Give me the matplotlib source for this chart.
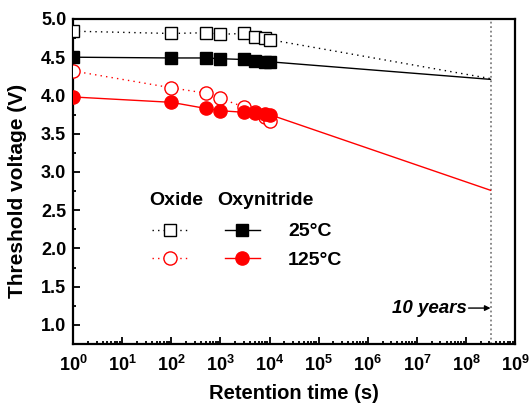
import numpy as np
import matplotlib
matplotlib.use("Agg")
import matplotlib.pyplot as plt
from matplotlib.ticker import LogLocator, FuncFormatter, NullFormatter, MultipleLocator

plt.rcParams['font.family'] = ['Liberation Sans', 'DejaVu Sans']
plt.rcParams['font.weight'] = 'bold'
plt.rcParams['mathtext.fontset'] = 'custom'
plt.rcParams['mathtext.rm'] = 'Liberation Sans:bold'
plt.rcParams['mathtext.bf'] = 'Liberation Sans:bold'

# data
time_s = [1, 100, 500, 1000, 3000, 5000, 8000, 10000]
oxide_25 = [4.84, 4.81, 4.82, 4.80, 4.81, 4.77, 4.75, 4.73]
oxynitride_25 = [4.50, 4.49, 4.49, 4.48, 4.47, 4.45, 4.44, 4.44]
oxide_125 = [4.32, 4.10, 4.03, 3.96, 3.85, 3.78, 3.72, 3.67]
oxynitride_125 = [3.98, 3.91, 3.83, 3.80, 3.78, 3.77, 3.76, 3.75]
ten_years_s = 3.15e8
extrap_oxide_25 = 4.22
extrap_oxynitride_25 = 4.21
extrap_oxynitride_125 = 2.76
legend_labels = ['', '', '25\u00b0C', '125\u00b0C']
headers = ['Oxide', 'Oxynitride']

fig = plt.figure(figsize=(5.3, 4.12), dpi=100)
ax = fig.add_axes([0.138, 0.165, 0.834, 0.789])

# extrapolation lines
ax.plot([time_s[-1], ten_years_s], [oxide_25[-1], extrap_oxide_25], color='black',
        lw=1.0, ls=(0, (1, 3)), zorder=2)
ax.plot([time_s[-1], ten_years_s], [oxynitride_25[-1], extrap_oxynitride_25], color='black',
        lw=1.0, ls='-', zorder=2)
ax.plot([time_s[-1], ten_years_s], [oxynitride_125[-1], extrap_oxynitride_125], color='red',
        lw=1.0, ls='-', zorder=2)

ms_sq = 8
ms_ci = 9.5
h1, = ax.plot(time_s, oxide_25, color='black', lw=1.0, ls=(0, (1, 3)), marker='s',
              ms=ms_sq, mfc='white', mec='black', mew=1.0, zorder=3)
h2, = ax.plot(time_s, oxide_125, color='red', lw=1.0, ls=(0, (1, 3)), marker='o',
              ms=ms_ci, mfc='white', mec='red', mew=1.0, zorder=3)
h3, = ax.plot(time_s, oxynitride_25, color='black', lw=1.0, ls='-', marker='s',
              ms=ms_sq, mfc='black', mec='black', zorder=4)
h4, = ax.plot(time_s, oxynitride_125, color='red', lw=1.0, ls='-', marker='o',
              ms=ms_ci, mfc='red', mec='red', zorder=4)

# 10 years line
ax.axvline(ten_years_s, color='gray', lw=1.3, ls=(0, (1, 1.5)), zorder=1)
ax.annotate('', xy=(ten_years_s, 1.22), xytext=(ten_years_s / 2.8, 1.22),
            arrowprops=dict(arrowstyle='-|>', color='black', lw=1.0,
                            mutation_scale=8, shrinkA=0, shrinkB=0))
ax.text(ten_years_s / 3.1, 1.22, '10 years', ha='right', va='center',
        fontsize=13.5, fontweight='bold', style='italic')

ax.set_xscale('log')
ax.set_xlim(1, 1e9)
ax.set_ylim(0.75, 5.0)

ax.xaxis.set_major_locator(LogLocator(base=10, numticks=20))
ax.xaxis.set_minor_locator(LogLocator(base=10, subs=np.arange(2, 10), numticks=20))
ax.xaxis.set_major_formatter(FuncFormatter(lambda v, p: r'$\mathbf{10^{%d}}$' % round(np.log10(v))))
ax.xaxis.set_minor_formatter(NullFormatter())
ax.yaxis.set_major_locator(MultipleLocator(0.5))
ax.yaxis.set_minor_locator(MultipleLocator(0.25))
ax.yaxis.set_major_formatter(FuncFormatter(lambda v, p: '%.1f' % v))

ax.tick_params(which='both', direction='in', top=False, right=False, width=1.3)
ax.tick_params(which='major', length=5, labelsize=13)
ax.tick_params(axis='x', which='major', pad=8)
ax.tick_params(axis='y', which='major', pad=5)
ax.tick_params(which='minor', length=2.5)
for lab in ax.get_yticklabels():
    lab.set_fontweight('bold')
for s in ax.spines.values():
    s.set_linewidth(1.6)

ax.set_xlabel('Retention time (s)', fontsize=14.5, fontweight='bold', labelpad=6.5)
ax.set_ylabel('Threshold voltage (V)', fontsize=15, fontweight='bold')
ax.yaxis.set_label_coords(-0.105, 0.47)

# legend
leg = ax.legend([h1, h2, h3, h4], legend_labels, ncol=2,
                loc='upper left', bbox_to_anchor=(0.179, 0.373), frameon=False,
                borderaxespad=0, borderpad=0,
                prop={'size': 14, 'weight': 'bold'}, handlelength=1.8,
                handletextpad=1.44, columnspacing=0.5, labelspacing=0.56)
ax.text(0.233, 0.443, headers[0], transform=ax.transAxes, ha='center', va='center',
        fontsize=14, fontweight='bold')
ax.text(0.434, 0.443, headers[1], transform=ax.transAxes, ha='center', va='center',
        fontsize=14, fontweight='bold')

fig.savefig('out.png', dpi=100)
